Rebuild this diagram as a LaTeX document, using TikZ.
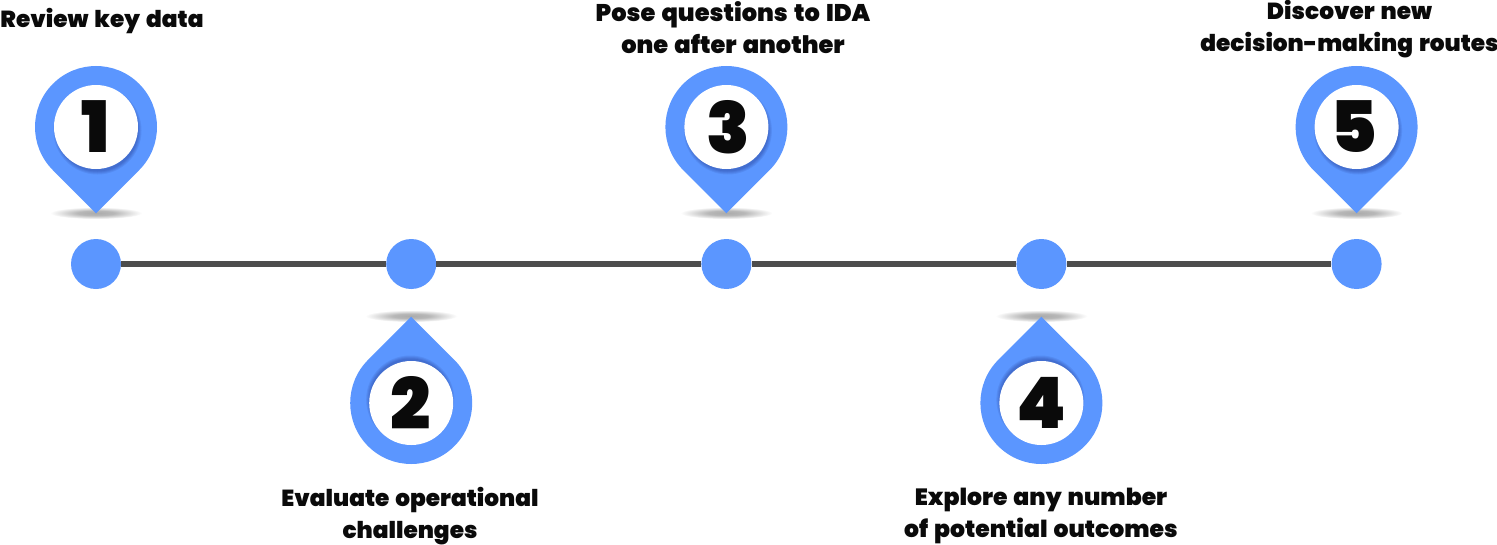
\documentclass[tikz,border=0pt]{standalone}
\usepackage{fontspec}
\setmainfont{Poppins}[UprightFont=* Black,BoldFont=* Black,WordSpace=1.5]
\definecolor{pinblue}{HTML}{5B96FF}
\definecolor{inkblack}{HTML}{0A0A0A}
\definecolor{linegray}{HTML}{4D4D4D}
\pgfdeclareradialshading{softgray}{\pgfpoint{0bp}{0bp}}{color(0bp)=(black!33); color(10bp)=(black!28); color(25bp)=(white); color(50bp)=(white)}
\tikzset{
  dot/.style={circle,fill=pinblue,minimum size=50pt,inner sep=0pt},
  label/.style={font=\fontsize{23.2}{32}\selectfont,align=center,text=inkblack,inner sep=0pt},
  midlabel/.style={label,font=\fontsize{23.5}{32}\selectfont},
  widelabel/.style={label,font=\fontsize{24.1}{32}\selectfont},
  num/.style={font=\fontsize{71}{71}\selectfont,text=inkblack,inner sep=0pt},
  timeline/.style={line width=5.5pt,draw=linegray},
}
\newcommand{\pinfront}[4]{%
  \foreach \r in {44,43,42,41}{
    \fill[black!70!blue,opacity=.07] (#1+#3,#2+#4) circle[radius=\r];}
  \fill[white] (#1,#2) circle[radius=42];}
\newcommand{\pinup}[1]{%
  \fill[pinblue] (#1,127) ++(-43.13,43.13) arc[start angle=135,end angle=405,radius=61] -- (#1,213.26) -- cycle;
  \pinfront{#1}{127}{1.5}{3.5}}
\newcommand{\pindown}[1]{%
  \fill[pinblue] (#1,403) ++(-43.13,-43.13) arc[start angle=225,end angle=-45,radius=61] -- (#1,316.74) -- cycle;
  \pinfront{#1}{403}{-1}{-3.5}}
\begin{document}
\begin{tikzpicture}[x=1pt,y=-1pt]
\useasboundingbox (0,0) rectangle (1497,544);
\fill[white] (0,0) rectangle (1497,544);
\foreach \x/\y in {96/213,411.2/316,726.4/213,1041.4/316,1356.6/213}{
  \shade[shading=softgray] (\x,\y) ellipse[x radius=46,y radius=6];}
\node[dot] (d1) at (96,264) {};
\node[dot] (d2) at (411.2,264) {};
\node[dot] (d3) at (726.4,264) {};
\node[dot] (d4) at (1041.4,264) {};
\node[dot] (d5) at (1356.6,264) {};
\draw[timeline] (d1) -- (d2);
\draw[timeline] (d2) -- (d3);
\draw[timeline] (d3) -- (d4);
\draw[timeline] (d4) -- (d5);
\pinup{96}
\pindown{411.2}
\pinup{726.4}
\pindown{1041.4}
\pinup{1356.6}
\node[num] (n1) at (96,127) {1};
\node[num] (n2) at (411,403) {2};
\node[num] (n3) at (728.5,127) {3};
\node[num] (n4) at (1041,403) {4};
\node[num] (n5) at (1354,127) {5};
\node[label] (t1) at (102,21) {Review key data};
\node[label] (t2) at (410,516) {Evaluate operational\\challenges};
\node[widelabel] (t3) at (733,28) {Pose questions to IDA\\one after another};
\node[midlabel] (t4) at (1041,516) {Explore any number\\of potential outcomes};
\node[label] (t5) at (1349.5,29) {Discover new\\decision-making routes};
\end{tikzpicture}
\end{document}
